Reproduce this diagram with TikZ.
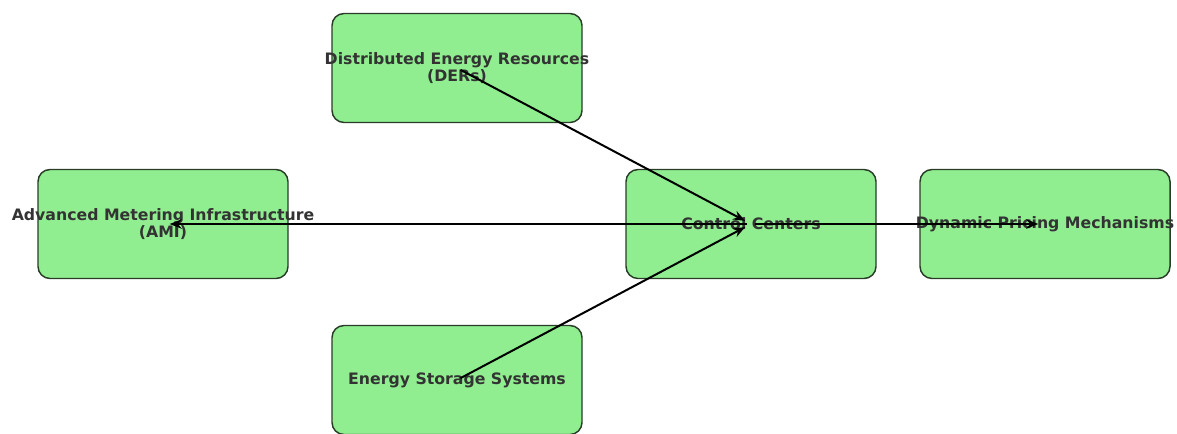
\documentclass[tikz,border=0pt]{standalone}
\usepackage{fontspec}
\setmainfont{DejaVu Sans}
\usetikzlibrary{shapes.geometric, arrows.meta}

\definecolor{nodegreen}{RGB}{144,238,144}
\definecolor{nodeedge}{RGB}{40,60,40}
\definecolor{nodetext}{RGB}{51,51,51}

\begin{document}
\begin{tikzpicture}[x=0.75pt,y=-0.75pt,node distance=220.5pt]
\tikzstyle{box} = [rectangle, rounded corners=9pt, minimum width=187.5pt, minimum height=81.75pt, draw=nodeedge, line width=1.1pt, fill=nodegreen]
\tikzstyle{boxtext} = [text=nodetext, font=\fontsize{11.8}{12.5}\selectfont\bfseries, align=center]

\tikzstyle{arrow} = [line width=1.5pt,-{Stealth[length=9pt,width=7pt,fill=black]},shorten >=5pt,shorten <=3pt]

\useasboundingbox (0,0) rectangle (1177,433);

\node (ami) [box,label={[boxtext]center:Advanced Metering Infrastructure\\(AMI)}] at (163,224) {};
\node (der) [box,right of=ami,yshift=117pt,label={[boxtext]center:Distributed Energy Resources\\(DERs)}] {};
\node (ess) [box,right of=ami,yshift=-117pt,label={[boxtext]center:Energy Storage Systems}] {};
\node (cc) [box,right of=der,yshift=-117pt,label={[boxtext]center:Control Centers}] {};
\node (dpm) [box,right of=cc,label={[boxtext]center:Dynamic Pricing Mechanisms}] {};

\draw [arrow] (der.center) -- (cc.center);
\draw [arrow] (ess.center) -- (cc.center);
\draw [arrow] (cc.center) -- (ami.center);
\draw [arrow] (cc.center) -- (dpm.center);

\end{tikzpicture}
\end{document}
